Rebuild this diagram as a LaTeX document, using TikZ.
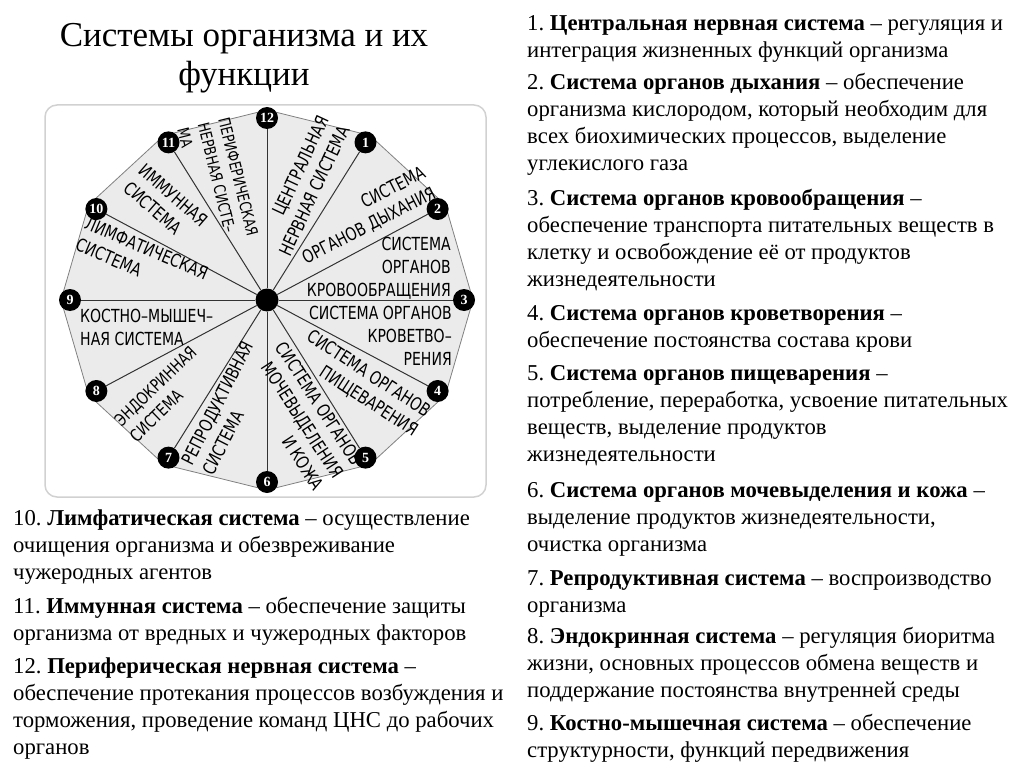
\documentclass[tikz,border=0pt]{standalone}
\usepackage{fontspec}
\setmainfont{Liberation Serif}
\newfontfamily\wheelfont[FakeStretch=0.78]{DejaVu Sans}
\usetikzlibrary{positioning}
\frenchspacing

\tikzset{
  sector/.style={font=\wheelfont\fontsize{18}{23}\selectfont, inner sep=0pt},
  num/.style={circle, fill=black, inner sep=0pt, minimum size=22pt, text=white, font=\bfseries\fontsize{14}{14}\selectfont},
  spoke/.style={draw=black!80, line width=1pt},
  item/.style={anchor=base west, align=left, inner sep=0pt, font=\fontsize{22.7}{27}\selectfont},
}

\begin{document}
\begin{tikzpicture}[x=1pt, y=-1pt]
  \useasboundingbox (0,0) rectangle (1024,767);

  % title
  \node[align=center, anchor=base, inner sep=0pt, font=\fontsize{35}{39}\selectfont] (title) at (244,86) {Системы организма и их\\функции};

  % frame and wheel
  \draw[rounded corners=12pt, draw=black!18, line width=1.5pt] (45,105) rectangle (486,497);

  \def\rx{197}
  \def\ry{182}
  \foreach \k in {1,...,12} {
    \coordinate (v\k) at ({267+(\rx+9)*cos(90-30*\k)}, {300-(\ry+8)*sin(90-30*\k)});
  }
  \draw[fill=black!8, draw=black!50, line width=0.8pt] (v1) \foreach \k in {2,...,12} { -- (v\k) } -- cycle;

  \node[circle, fill=black, inner sep=0pt, minimum size=23pt] (hub) at (267,300) {};
  \foreach \k in {1,...,12} {
    \node[num] (n\k) at ({267+\rx*cos(90-30*\k)}, {300-\ry*sin(90-30*\k)}) {\k};
    \draw[spoke] (hub) -- (n\k);
  }

  % sector labels
  \node[sector, rotate=65, align=right] (cns) at (304,186) {ЦЕНТРАЛЬНАЯ\\НЕРВНАЯ СИСТЕМА};
  \node[sector, rotate=27, align=right] (breath) at (364,216) {СИСТЕМА\\ОРГАНОВ ДЫХАНИЯ};
  \node[sector, anchor=east, align=right] (blood) at (451,268) {СИСТЕМА\\ОРГАНОВ\\КРОВООБРАЩЕНИЯ};
  \node[sector, anchor=east, align=right] (hemo) at (452,336) {СИСТЕМА ОРГАНОВ\\КРОВЕТВО–\\РЕНИЯ};
  \node[sector, rotate=-33, align=right] (digest) at (362,384) {СИСТЕМА ОРГАНОВ\\ПИЩЕВАРЕНИЯ};
  \node[sector, rotate=-57, align=right] (urin) at (300,416) {СИСТЕМА ОРГАНОВ\\МОЧЕВЫДЕЛЕНИЯ\\И КОЖА};
  \node[sector, rotate=63, align=left] (repro) at (228,408) {РЕПРОДУКТИВНАЯ\\СИСТЕМА};
  \node[sector, rotate=44, align=left, font=\wheelfont\fontsize{17}{22}\selectfont] (endo) at (163,394) {ЭНДОКРИННАЯ\\СИСТЕМА};
  \node[sector, anchor=west, align=left] (bone) at (80,327) {КОСТНО–МЫШЕЧ–\\НАЯ СИСТЕМА};
  \node[sector, rotate=-23, align=left] (lymph) at (142,259) {ЛИМФАТИЧЕСКАЯ\\СИСТЕМА};
  \node[sector, rotate=-41, align=left] (immun) at (166,204) {ИММУННАЯ\\СИСТЕМА};
  \node[sector, rotate=-76, align=left, font=\wheelfont\fontsize{16}{21}\selectfont] (pns) at (218,182) {ПЕРИФЕРИЧЕСКАЯ\\НЕРВНАЯ СИСТЕ–\\МА};

  % descriptions
  \node[item] (item1) at (527,58) {1. \textbf{Центральная нервная система} – регуляция и\\интеграция жизненных функций организма};
  \node[item] (item2) at (527,171) {2. \textbf{Система органов дыхания} – обеспечение\\организма кислородом, который необходим для\\всех биохимических процессов, выделение\\углекислого газа};
  \node[item] (item3) at (527,286) {3. \textbf{Система органов кровообращения} –\\обеспечение транспорта питательных веществ в\\клетку и освобождение её от продуктов\\жизнедеятельности};
  \node[item] (item4) at (527,347) {4. \textbf{Система органов кроветворения} –\\обеспечение постоянства состава крови};
  \node[item] (item5) at (527,461) {5. \textbf{Система органов пищеварения} –\\потребление, переработка, усвоение питательных\\веществ, выделение продуктов\\жизнедеятельности};
  \node[item] (item6) at (527,551) {6. \textbf{Система органов мочевыделения и кожа} –\\выделение продуктов жизнедеятельности,\\очистка организма};
  \node[item] (item7) at (527,612) {7. \textbf{Репродуктивная система} – воспроизводство\\организма};
  \node[item] (item8) at (527,697) {8. \textbf{Эндокринная система} – регуляция биоритма\\жизни, основных процессов обмена веществ и\\поддержание постоянства внутренней среды};
  \node[item] (item9) at (527,757) {9. \textbf{Костно-мышечная система} – обеспечение\\структурности, функций передвижения};
  \node[item] (item10) at (13,579) {10. \textbf{Лимфатическая система} – осуществление\\очищения организма и обезвреживание\\чужеродных агентов};
  \node[item] (item11) at (13,640) {11. \textbf{Иммунная система} – обеспечение защиты\\организма от вредных и чужеродных факторов};
  \node[item] (item12) at (13,754) {12. \textbf{Периферическая нервная система} –\\обеспечение протекания процессов возбуждения и\\торможения, проведение команд ЦНС до рабочих\\органов};
\end{tikzpicture}
\end{document}
